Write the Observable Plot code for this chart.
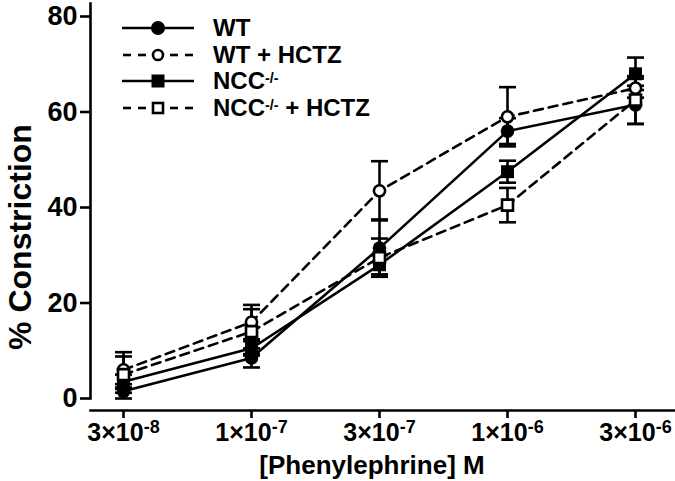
<!DOCTYPE html>
<html><head><meta charset="utf-8">
<script src="https://cdn.jsdelivr.net/npm/d3@7"></script>
<script src="https://cdn.jsdelivr.net/npm/@observablehq/plot@0.6"></script>
<style>
html,body{margin:0;padding:0;background:#fff;}
#wrap{position:relative;width:675px;height:481px;font-family:"Liberation Sans",Arial,sans-serif;font-weight:bold;color:#000;overflow:hidden;}
#chart svg{display:block;}
#ytitle{position:absolute;left:20px;top:237px;transform:translate(-50%,-50%) rotate(-90deg);font-size:32px;line-height:1;white-space:nowrap;}
#xtitle{position:absolute;left:372px;top:465px;transform:translate(-50%,-50%);font-size:26px;line-height:1;white-space:nowrap;}
.row{position:absolute;left:122px;height:22px;display:flex;align-items:center;font-size:24px;line-height:1;white-space:nowrap;}
.row span{line-height:1;}
.row svg{margin-right:19px;overflow:visible;}
sup{font-size:0.6em;vertical-align:6px;line-height:0;}
</style>
</head><body>
<div id="wrap">
  <div id="chart"></div>
  <div id="legend"></div>
  <div id="ytitle">% Constriction</div>
  <div id="xtitle">[Phenylephrine] M</div>
</div>
<script>
// ---- data ----
const conc = ["3e-8", "1e-7", "3e-7", "1e-6", "3e-6"];
const tickBase = ["3×10", "1×10", "3×10", "1×10", "3×10"];
const tickExp = ["-8", "-7", "-7", "-6", "-6"];
const seriesNames = ["WT", "WT + HCTZ", "NCC-/-", "NCC-/- + HCTZ"];
const wt       = [1.5, 8.5, 31.5, 56, 61.5];
const wtErr    = [1.5, 2, 6, 2.7, 4];
const wtH      = [6, 16, 43.5, 59, 65];
const wtHErr   = [3.7, 3.6, 6.2, 6.2, 2];
const ncc      = [3.5, 10.5, 28, 47.5, 68];
const nccErr   = [1.5, 1.5, 2, 2.3, 3.4];
const nccH     = [5, 14, 29.5, 40.5, 62.5];
const nccHErr  = [3.8, 4.7, 4, 3.6, 5];
const yTicks = [0, 20, 40, 60, 80];

const values = [wt, wtH, ncc, nccH];
const errs = [wtErr, wtHErr, nccErr, nccHErr];
const rows = [];
seriesNames.forEach((s, k) => conc.forEach((c, i) => rows.push({series: s, conc: c, value: values[k][i], err: errs[k][i]})));

// ---- styles ----
const dashedSet = new Set(["WT + HCTZ", "NCC-/- + HCTZ"]);
const capSymbol = {draw(ctx) { ctx.moveTo(-8.5, 0); ctx.lineTo(8.5, 0); }};
const SW = 2.6;

const chart = Plot.plot({
  width: 675, height: 481,
  marginLeft: 90, marginRight: 0, marginTop: 16, marginBottom: 71,
  insetBottom: 12,
  style: {fontFamily: '"Liberation Sans", Arial, sans-serif', fontWeight: "bold", color: "#000", background: "#fff"},
  x: {type: "point", domain: conc, padding: 0, insetLeft: 32, insetRight: 39},
  y: {domain: [0, 80]},
  marks: [
    Plot.frame({anchor: "left", insetTop: -13, insetBottom: 12, strokeWidth: SW}),
    Plot.frame({anchor: "bottom", strokeWidth: SW}),
    Plot.axisY({ticks: yTicks, tickSize: 10, tickPadding: 3, fontSize: 27, label: null, strokeWidth: SW}),
    Plot.axisX({tickSize: 8, tickPadding: 5, fontSize: 25, label: null, strokeWidth: SW,
      tickFormat: d => { const i = conc.indexOf(d); return tickBase[i] + "^" + tickExp[i]; }}),
    Plot.line(rows.filter(d => !dashedSet.has(d.series)), {x: "conc", y: "value", z: "series", stroke: "black", strokeWidth: SW}),
    Plot.line(rows.filter(d => dashedSet.has(d.series)), {x: "conc", y: "value", z: "series", stroke: "black", strokeWidth: SW, strokeDasharray: "9,6"}),
    Plot.ruleX(rows, {x: "conc", y1: d => d.value - d.err, y2: d => d.value + d.err, stroke: "black", strokeWidth: SW}),
    Plot.dot(rows, {x: "conc", y: d => d.value + d.err, symbol: capSymbol, stroke: "black", strokeWidth: SW, r: 5}),
    Plot.dot(rows, {x: "conc", y: d => d.value - d.err, symbol: capSymbol, stroke: "black", strokeWidth: SW, r: 5}),
    Plot.dot(rows.filter(d => d.series === "WT"), {x: "conc", y: "value", symbol: "circle", r: 6.8, fill: "black"}),
    Plot.dot(rows.filter(d => d.series === "WT + HCTZ"), {x: "conc", y: "value", symbol: "circle", r: 5.6, fill: "white", stroke: "black", strokeWidth: SW}),
    Plot.dot(rows.filter(d => d.series === "NCC-/-"), {x: "conc", y: "value", symbol: "square", r: 7.3, fill: "black"}),
    Plot.dot(rows.filter(d => d.series === "NCC-/- + HCTZ"), {x: "conc", y: "value", symbol: "square", r: 6.2, fill: "white", stroke: "black", strokeWidth: SW})
  ]
});
document.getElementById("chart").appendChild(chart);

// superscript exponents in x tick labels
chart.querySelectorAll('g[aria-label="x-axis tick label"] text').forEach(t => {
  const parts = t.textContent.split("^");
  if (parts.length !== 2) return;
  t.textContent = "";
  const ns = "http://www.w3.org/2000/svg";
  const a = document.createElementNS(ns, "tspan"); a.textContent = parts[0];
  const b = document.createElementNS(ns, "tspan"); b.textContent = parts[1];
  b.setAttribute("font-size", "18"); b.setAttribute("dy", "-8");
  t.appendChild(a); t.appendChild(b);
});

// ---- legend ----
const legendTops = [28, 55, 81, 108];
const legend = document.getElementById("legend");
seriesNames.forEach((name, k) => {
  const row = document.createElement("div");
  row.className = "row";
  row.style.top = (legendTops[k] - 11) + "px";
  const dashed = dashedSet.has(name);
  const isSquare = name.startsWith("NCC");
  const cy = 11;
  let lines = dashed
    ? [[1,9],[16,24],[48,56],[63,71]].map(([a,b]) => `<line x1="${a}" x2="${b}" y1="${cy}" y2="${cy}" stroke="black" stroke-width="${SW}"/>`).join("")
    : `<line x1="0" x2="72" y1="${cy}" y2="${cy}" stroke="black" stroke-width="${SW}"/>`;
  let marker;
  if (isSquare) {
    marker = dashed ? `<rect x="31" y="${cy-5}" width="10" height="10" fill="white" stroke="black" stroke-width="${SW}"/>`
                    : `<rect x="29.5" y="${cy-6.5}" width="13" height="13" fill="black"/>`;
  } else {
    marker = dashed ? `<circle cx="36" cy="${cy}" r="5" fill="white" stroke="black" stroke-width="${SW}"/>`
                    : `<circle cx="36" cy="${cy}" r="7" fill="black"/>`;
  }
  const label = name.replace("-/-", "<sup>-/-</sup>");
  row.innerHTML = `<svg width="72" height="22">${lines}${marker}</svg><span>${label}</span>`;
  legend.appendChild(row);
});
</script>
</body></html>
